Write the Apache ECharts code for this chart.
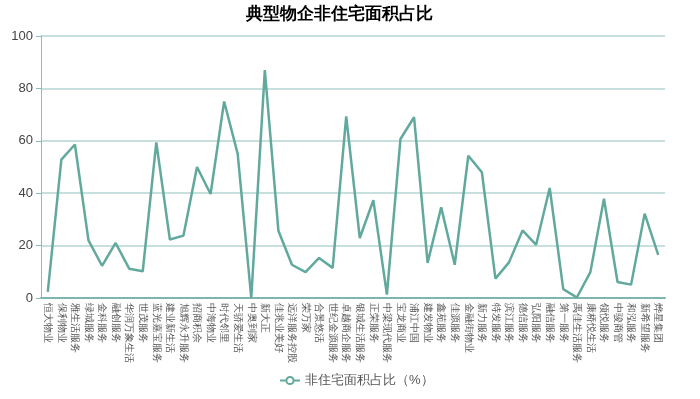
<!DOCTYPE html>
<html>
<head>
<meta charset="utf-8">
<script src="https://cdn.jsdelivr.net/npm/echarts@6/dist/echarts.min.js"></script>
<style>
    html, body {margin: 0; padding: 0; background: #fff;}
    #chart {width: 700px; height: 399px;}
</style>
</head>
<body>
<div id="chart"></div>
<script>
    var categories = [
        '恒大物业', '保利物业', '雅生活服务', '绿城服务', '金科服务', '融创服务',
        '华润万象生活', '世茂服务', '蓝光嘉宝服务', '建业新生活', '旭辉永升服务', '招商积余',
        '中海物业', '时代邻里', '天骄爱生活', '中奥到家', '新大正', '佳兆业美好',
        '远洋服务控股', '荣万家', '合景悠活', '世纪金源服务', '卓越商企服务', '银城生活服务',
        '正荣服务', '中梁现代服务', '宝龙商业', '浦江中国', '建发物业', '鑫苑服务',
        '佳源服务', '金融街物业', '新力服务', '特发服务', '滨江服务', '德信服务',
        '弘阳服务', '融信服务', '第一服务', '禹佳生活服务', '康桥悦生活', '领悦服务',
        '中骏商管', '和泓服务', '新希望服务', '烨星集团'
    ];

    var ratio = [
        2.3, 52.8, 58.6, 22, 12.3, 21,
        11.2, 10.2, 59.4, 22.3, 23.8, 50,
        39.7, 75, 55, 0, 87, 25.7,
        12.7, 9.9, 15.3, 11.5, 69.3, 22.9,
        37.3, 1.3, 60.7, 69, 13.4, 34.6,
        12.7, 54.3, 48, 7.4, 13.6, 25.8,
        20.3, 42, 3.4, 0.2, 9.9, 37.9,
        6.1, 5.1, 32.2, 16.5
    ];

    var yTicks = [0, 20, 40, 60, 80, 100];

    var myChart = echarts.init(document.getElementById('chart'));
    var option  = {
        animation: false,
        title    : {
            text     : '典型物企非住宅面积占比',
            left     : 241,
            top      : 1,
            textStyle: {fontSize: 17, fontWeight: 'bold', color: '#000'}
        },
        legend   : {
            bottom   : 7,
            left     : 274,
            itemWidth: 20,
            itemHeight: 9,
            itemGap  : 4,
            textStyle: {fontSize: 13, color: '#555'},
            data     : ['非住宅面积占比（%）']
        },
        grid     : {left: 41, right: 35, top: 36, bottom: 101},
        xAxis    : {
            type       : 'category',
            boundaryGap: true,
            data       : categories,
            axisLine   : {lineStyle: {color: '#7fb5b0', width: 2}},
            axisTick   : {alignWithLabel: true, lineStyle: {color: '#7fb5b0'}},
            axisLabel  : {
                interval: 0,
                rotate  : -90,
                fontSize: 10,
                color   : '#555',
                margin  : 5
            }
        },
        yAxis    : {
            type     : 'value',
            min      : yTicks[0],
            max      : yTicks[yTicks.length - 1],
            interval : 20,
            axisLine : {show: true, lineStyle: {color: '#8bbcb8', width: 1}},
            axisTick : {show: true, lineStyle: {color: '#8bbcb8'}},
            axisLabel: {fontSize: 13, color: '#444'},
            splitLine: {lineStyle: {color: '#b5d5d2', width: 1.5}}
        },
        series   : [
            {
                name      : '非住宅面积占比（%）',
                type      : 'line',
                data      : ratio,
                showSymbol: false,
                symbol    : 'emptyCircle',
                symbolSize: 6,
                color     : '#62a99d',
                lineStyle : {width: 2.5, color: '#62a99d'}
            }
        ]
    };

    myChart.setOption(option);
</script>
</body>
</html>
